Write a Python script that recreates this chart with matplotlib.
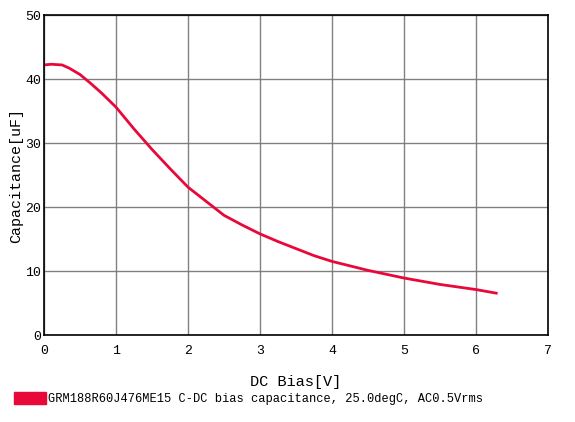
import numpy as np
import matplotlib
matplotlib.use("Agg")
import matplotlib.pyplot as plt
from matplotlib.patches import Rectangle

# DC bias [V] vs capacitance [uF]
bias_v = [0.0, 0.1, 0.25, 0.35, 0.5, 0.65, 0.8, 1.0, 1.25, 1.5, 1.75, 2.0,
          2.25, 2.5, 2.75, 3.0, 3.25, 3.5, 3.75, 4.0, 4.25, 4.5, 4.75,
          5.0, 5.25, 5.5, 5.75, 6.0, 6.15, 6.3]
cap_uf = [42.2, 42.3, 42.2, 41.7, 40.7, 39.3, 37.8, 35.6, 32.2, 29.0, 26.0,
          23.1, 20.9, 18.7, 17.2, 15.8, 14.6, 13.5, 12.4, 11.5, 10.8,
          10.1, 9.5, 8.9, 8.4, 7.9, 7.5, 7.1, 6.8, 6.5]

x_ticks = [0, 1, 2, 3, 4, 5, 6, 7]
y_ticks = [0, 10, 20, 30, 40, 50]
legend_text = "GRM188R60J476ME15 C-DC bias capacitance, 25.0degC, AC0.5Vrms"

red = "#E8083A"
mono = ["Liberation Mono", "DejaVu Sans Mono"]

fig = plt.figure(figsize=(5.75, 4.22), dpi=100)
ax = fig.add_axes([44 / 575, 1 - 335 / 422, 504 / 575, 320 / 422])

ax.plot(bias_v, cap_uf, color=red, lw=2.0, solid_capstyle="butt")

ax.set_xlim(0, 7)
ax.set_ylim(0, 50)
ax.set_xticks(x_ticks)
ax.set_yticks(y_ticks)
ax.grid(True, color="#808080", lw=1)
ax.set_axisbelow(True)
ax.tick_params(length=0, labelsize=9.5)
ax.tick_params(axis="x", pad=7)
ax.tick_params(axis="y", pad=2)
for lab in ax.get_xticklabels() + ax.get_yticklabels():
    lab.set_family(mono)
for sp in ax.spines.values():
    sp.set_color("black")
    sp.set_linewidth(1.2)

ax.set_xlabel("DC Bias[V]", family=mono, fontsize=11, labelpad=13)
ax.set_ylabel("Capacitance[uF]", family=mono, fontsize=10.8)
ax.yaxis.set_label_coords(-21 / 504, 0.5)

# legend swatch and text under the plot
fig.patches.append(Rectangle((14 / 575, 1 - 404 / 422), 32 / 575, 12 / 422,
                             transform=fig.transFigure, color=red))
fig.text(48 / 575, 1 - 399 / 422, legend_text, family=mono, fontsize=8.65,
         va="center", ha="left")

fig.savefig("out.png", dpi=100)
